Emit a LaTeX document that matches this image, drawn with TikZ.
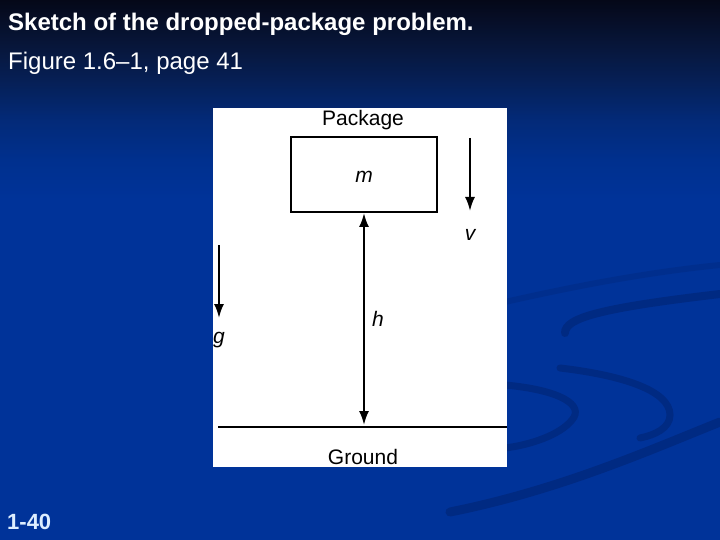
\documentclass[tikz,border=0pt]{standalone}
\usepackage{fontspec}
\setmainfont{Liberation Sans}
\usetikzlibrary{arrows.meta}
\definecolor{bg0}{HTML}{050818}
\definecolor{bg45}{HTML}{07163A}
\definecolor{bg80}{HTML}{061F55}
\definecolor{bg120}{HTML}{032A78}
\definecolor{bg160}{HTML}{00308E}
\definecolor{bgbot}{HTML}{003399}
\definecolor{swoosh}{HTML}{002A82}
\definecolor{numcol}{HTML}{DDEEFF}
\pgfdeclareverticalshading{slidebg}{100bp}{color(0bp)=(bgbot); color(56.5bp)=(bgbot); color(60.2bp)=(bg160); color(63.9bp)=(bg120); color(67.6bp)=(bg80); color(70.8bp)=(bg45); color(75bp)=(bg0); color(100bp)=(bg0)}
\begin{document}
\begin{tikzpicture}[x=1pt,y=-1pt,
  lbl/.style={font=\fontsize{21}{25}\selectfont, inner sep=0pt},
  mlbl/.style={font=\fontsize{21}{25}\selectfont\itshape, inner sep=0pt},
  tip/.tip={Latex[length=14pt,width=10pt]},
  arr/.style={line width=2pt,-tip},
  ttl/.style={text=white, anchor=west, inner sep=0pt, font=\fontsize{24}{28}\selectfont}]
\useasboundingbox (0,0) rectangle (720,540);
\shade[shading=slidebg] (0,0) rectangle (720,540);
% decorative swooshes
\begin{scope}[swoosh, line cap=round]
\draw[line width=6pt, opacity=0.5] (505,302) .. controls (580,285) and (650,272) .. (720,265);
\draw[line width=8pt] (565,333) .. controls (565,318) and (600,308) .. (720,294);
\draw[line width=7pt] (505,385) .. controls (560,390) and (585,405) .. (572,420) .. controls (560,435) and (530,445) .. (505,448);
\draw[line width=7pt] (560,368) .. controls (620,375) and (670,390) .. (670,415) .. controls (670,428) and (655,435) .. (640,438);
\draw[line width=9pt] (450,512) .. controls (560,490) and (650,450) .. (720,422);
\end{scope}
% panel
\fill[white] (213,108) rectangle (507,467);
% title texts
\node[ttl, font=\fontsize{24}{28}\selectfont\bfseries] (title) at (8,24) {Sketch of the dropped-package problem.};
\node[ttl] (sub) at (8,63) {Figure 1.6–1, page 41};
\node[ttl, text=numcol, font=\fontsize{22}{26}\selectfont\bfseries] (num) at (7,522) {1-40};
% diagram
\node[lbl] (pkg) at (363,120) {Package};
\node[draw, line width=2pt, minimum width=146pt, minimum height=75pt, inner sep=0pt] (box) at (363.5,174.5) {};
\node[mlbl] (m) at (364,177) {m};
\coordinate (vt) at (470,138);
\coordinate (vb) at (470,211);
\draw[arr] (vt) -- (vb);
\node[mlbl] (v) at (470,235) {v};
\coordinate (gt) at (219,245);
\coordinate (gb) at (219,318);
\draw[arr] (gt) -- (gb);
\begin{scope}
\clip (213,108) rectangle (507,467);
\node[mlbl] (g) at (219,340) {g};
\end{scope}
\coordinate (gl) at (218,427);
\coordinate (gr) at (507,427);
\draw[line width=2.5pt] (gl) -- (gr);
\coordinate (hb) at (364,425);
\draw[line width=2pt,tip-tip] (box.south -| hb) -- (hb);
\node[mlbl] (h) at (378,319) {h};
\node[lbl] (ground) at (363,457) {Ground};
\end{tikzpicture}
\end{document}
